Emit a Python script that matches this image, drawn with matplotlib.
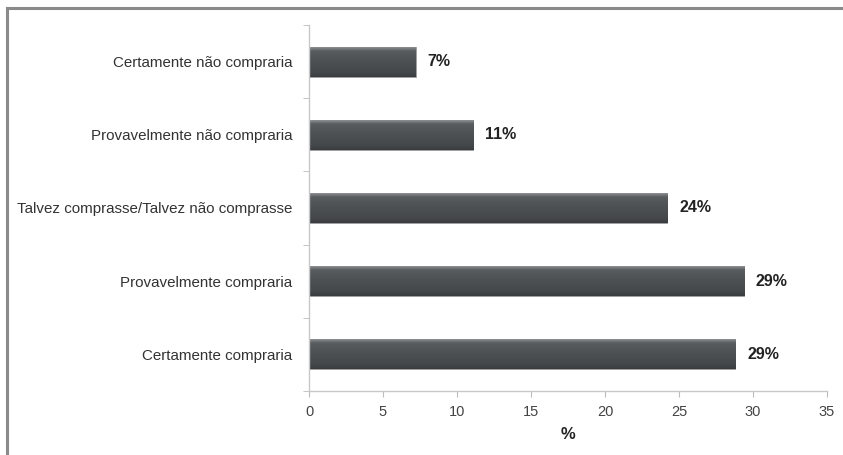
import matplotlib
matplotlib.use("Agg")
import matplotlib.pyplot as plt
import numpy as np
from matplotlib.patches import Rectangle
from matplotlib.colors import LinearSegmentedColormap

categories = ["Certamente compraria", "Provavelmente compraria",
              "Talvez comprasse/Talvez não comprasse",
              "Provavelmente não compraria", "Certamente não compraria"]
values = [28.8, 29.4, 24.2, 11.1, 7.2]
value_labels = ["29%", "29%", "24%", "11%", "7%"]
xticks = [0, 5, 10, 15, 20, 25, 30, 35]

plt.rcParams['font.family'] = ["Liberation Sans", "DejaVu Sans"]

fig = plt.figure(figsize=(8.43, 4.55), dpi=100)
ax = fig.add_axes([309/843, 1-391/455, (827-309)/843, (391-25)/455])

# outer frame
fig.patches.append(Rectangle((7/843, -0.1), 1.2, 1 - 8/455 + 0.1, transform=fig.transFigure,
                             fill=False, edgecolor="#8a8a8a", linewidth=2.2))

y = np.arange(len(categories))
bars = ax.barh(y, values, height=0.41, color="#4c4f52", edgecolor="#a0a0a0", linewidth=0.6, zorder=2)

# gradient overlay
grad = np.linspace(0, 1, 64).reshape(-1, 1)
cmap = LinearSegmentedColormap.from_list(
    "g", [(0.0, "#3a3d40"), (0.15, "#45484b"), (0.6, "#505356"), (0.85, "#5a5d60"), (1.0, "#9a9c9e")])
for b in bars:
    x0, y0, w, h = b.get_x(), b.get_y(), b.get_width(), b.get_height()
    im = ax.imshow(grad, extent=(x0, x0 + w, y0, y0 + h), aspect="auto", cmap=cmap,
                   origin="lower", zorder=2.5)
    im.set_clip_path(b)

for b, lab in zip(bars, value_labels):
    ax.text(b.get_width() + 0.8, b.get_y() + b.get_height()/2, lab, va="center", ha="left",
            fontsize=11.5, fontweight="bold", color="#222222")

ax.set_xlim(0, 35)
ax.set_ylim(-0.5, len(categories) - 0.5)
ax.set_xticks(xticks)
ax.set_xticklabels([str(t) for t in xticks], fontsize=10.5, color="#444444")
ax.set_yticks(y)
ax.set_yticklabels(categories, fontsize=10.9, color="#333333")
ax.set_yticks(np.arange(-0.5, len(categories), 1), minor=True)
ax.tick_params(axis="y", which="major", length=0, pad=12)
ax.tick_params(axis="y", which="minor", length=4, color="#bbbbbb", direction="out")
ax.tick_params(axis="x", length=4, color="#bbbbbb", pad=6)
ax.set_xlabel("%", fontsize=12, fontweight="bold", color="#222222", labelpad=6)

for s in ["top", "right"]:
    ax.spines[s].set_visible(False)
for s in ["left", "bottom"]:
    ax.spines[s].set_color("#c8c8c8")
    ax.spines[s].set_linewidth(1.0)

fig.savefig("out.png", dpi=100)
